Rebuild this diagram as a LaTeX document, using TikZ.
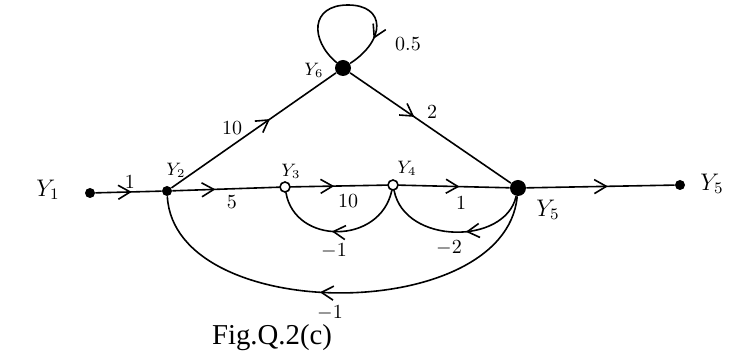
\documentclass[tikz,border=0pt]{standalone}
\usepackage{amsmath}
\usepackage{fontspec}
\newfontfamily\capfont{Liberation Serif}
\usepackage{tikz}
\usetikzlibrary{arrows.meta, positioning, calc, decorations.markings}

\tikzset{
  flow/.style={postaction={decorate}, decoration={markings,
      mark=at position #1 with {\arrow{Straight Barb[length=6pt, width=7pt]}}}},
  flow/.default=0.5,
  dotnode/.style={circle, fill, inner sep=0pt, minimum size=5pt},
  opennode/.style={circle, draw, fill=white, inner sep=0pt, minimum size=5pt},
  bignode/.style={circle, fill, inner sep=0pt, minimum size=8pt},
  gain/.style={font=\normalsize, inner sep=1pt},
  varlbl/.style={font=\small, inner sep=1pt}
}

\begin{document}
\begin{tikzpicture}[x=0.5pt, y=-0.5pt, thick, line cap=round]
        \useasboundingbox (0,0) rectangle (730,352);

        % Nodes of the graph
        \node[dotnode] (y1) at (90,193) {};
        \node[dotnode] (y2) at (167,191) {};
        \node[opennode] (y3) at (285,187) {};
        \node[opennode] (y4) at (393,185) {};
        \node[bignode] (y5) at (518,188) {};
        \node[dotnode] (y5o) at (680,185) {};
        \node[bignode] (y6) at (343,68) {};

        % Variable names
        \node[font=\large] (ly1) at (48,190) {$Y_1$};
        \node[varlbl] (ly2) at (176,170) {$Y_2$};
        \node[varlbl] (ly3) at (291,171) {$Y_3$};
        \node[varlbl] (ly4) at (407,168) {$Y_4$};
        \node[font=\large] (ly5) at (548,210) {$Y_5$};
        \node[font=\large] (ly5o) at (712,184) {$Y_5$};
        \node[varlbl] (ly6) at (314,70) {$Y_6$};

        % Forward branches
        \draw[flow=0.55] (y1) -- (y2);
        \draw[flow=0.4] (y2) -- (y3);
        \draw[flow=0.45] (y3) -- (y4);
        \draw[flow=0.55] (y4) -- (y5);
        \draw[flow=0.55] (y5) -- (y5o);
        \draw[flow=0.6] (y2) -- (y6);
        \draw[flow=0.4] (y6) -- (y5);

        % Self loop at Y6
        \draw[flow=0.8] (y6) .. controls (310,40) and (310,5) .. (348,5)
              .. controls (386,5) and (386,40) .. (y6);

        % Feedback branches
        \draw[flow=0.55] (y4) .. controls (380,245) and (295,245) .. (y3);
        \draw[flow=0.42] (y5) .. controls (505,245) and (405,245) .. (y4);
        \draw[flow=0.55] (y5) .. controls (505,325) and (175,325) .. (y2);

        % Gains
        \node[gain] (g1) at (130,182) {1};
        \node[gain] (g2) at (232,202) {5};
        \node[gain] (g3) at (348,201) {10};
        \node[gain] (g4) at (461,203) {1};
        \node[gain] (g5) at (232,128) {10};
        \node[gain] (g6) at (432,112) {2};
        \node[gain] (g7) at (408,44) {0.5};
        \node[gain] (g8) at (334,251) {$-1$};
        \node[gain] (g9) at (449,248) {$-2$};
        \node[gain] (g10) at (330,313) {$-1$};

        % Caption
        \node[font=\capfont\Large] (cap) at (272,338) {Fig.Q.2(c)};
    \end{tikzpicture}
\end{document}
